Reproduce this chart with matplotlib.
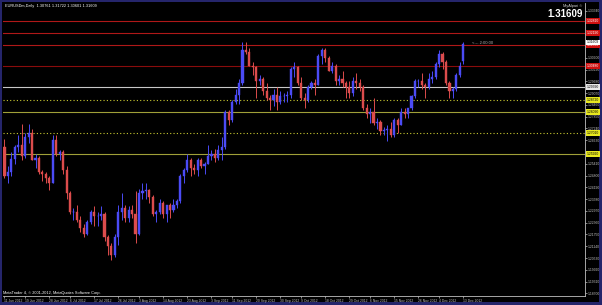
import numpy as np
import pandas as pd
import matplotlib
matplotlib.use("Agg")
import matplotlib.pyplot as plt
import matplotlib.transforms as mtransforms

plt.rcParams["font.family"] = ["Liberation Sans", "DejaVu Sans"]

# ---------------- data (EURUSDm, Daily) ----------------
dates = pd.bdate_range("2012-06-11", "2012-12-13")

opens = [1.2630, 1.2480, 1.2500, 1.2565, 1.2630, 1.2640, 1.2580, 1.2680, 1.2700, 1.2560,
         1.2570, 1.2500, 1.2490, 1.2470, 1.2440, 1.2665, 1.2590, 1.2600, 1.2510, 1.2390,
         1.2290, 1.2290, 1.2250, 1.2210, 1.2180, 1.2240, 1.2290, 1.2270, 1.2270, 1.2280,
         1.2160, 1.2115, 1.2070, 1.2160, 1.2290, 1.2310, 1.2260, 1.2300, 1.2280, 1.2180,
         1.2390, 1.2400, 1.2405, 1.2370, 1.2280, 1.2290, 1.2340, 1.2280, 1.2330, 1.2300,
         1.2330, 1.2350, 1.2480, 1.2510, 1.2560, 1.2520, 1.2510, 1.2560, 1.2530, 1.2540,
         1.2580, 1.2590, 1.2570, 1.2610, 1.2630, 1.2810, 1.2770, 1.2860, 1.2900, 1.2960,
         1.3130, 1.3120, 1.3050, 1.3040, 1.2970, 1.2980, 1.2920, 1.2880, 1.2870, 1.2900,
         1.2860, 1.2890, 1.2890, 1.2900, 1.3030, 1.3040, 1.2960, 1.2880, 1.2870, 1.2940,
         1.2960, 1.2950, 1.3100, 1.3130, 1.3090, 1.3020, 1.3050, 1.2970, 1.2980, 1.2960,
         1.2940, 1.2910, 1.2970, 1.2960, 1.2940, 1.2830, 1.2800, 1.2810, 1.2750, 1.2760,
         1.2710, 1.2715, 1.2720, 1.2690, 1.2770, 1.2740, 1.2810, 1.2800, 1.2830, 1.2890,
         1.2970, 1.2970, 1.2950, 1.2940, 1.2980, 1.2990, 1.3060, 1.3110, 1.3070, 1.2960,
         1.2920, 1.2930, 1.3000, 1.30761]
highs = [1.2671, 1.2530, 1.2600, 1.2640, 1.2690, 1.2747, 1.2700, 1.2745, 1.2720, 1.2590,
         1.2580, 1.2510, 1.2500, 1.2480, 1.2690, 1.2690, 1.2610, 1.2610, 1.2530, 1.2400,
         1.2310, 1.2330, 1.2270, 1.2230, 1.2250, 1.2300, 1.2320, 1.2290, 1.2320, 1.2290,
         1.2170, 1.2130, 1.2180, 1.2330, 1.2390, 1.2330, 1.2320, 1.2330, 1.2400, 1.2410,
         1.2440, 1.2440, 1.2410, 1.2380, 1.2300, 1.2360, 1.2350, 1.2330, 1.2340, 1.2360,
         1.2360, 1.2490, 1.2520, 1.2590, 1.2570, 1.2540, 1.2570, 1.2570, 1.2550, 1.2640,
         1.2610, 1.2620, 1.2640, 1.2680, 1.2820, 1.2820, 1.2870, 1.2930, 1.2980, 1.3170,
         1.31722, 1.3140, 1.3070, 1.3050, 1.3000, 1.2990, 1.2960, 1.2900, 1.2930, 1.2940,
         1.2920, 1.2910, 1.2920, 1.3040, 1.3070, 1.3050, 1.2990, 1.2910, 1.2950, 1.2970,
         1.2980, 1.3110, 1.3140, 1.3140, 1.3100, 1.3070, 1.3060, 1.3000, 1.3020, 1.2970,
         1.2970, 1.2990, 1.3010, 1.2980, 1.2950, 1.2850, 1.2830, 1.2880, 1.2780, 1.2770,
         1.2730, 1.2740, 1.2760, 1.2780, 1.2780, 1.2830, 1.2830, 1.2830, 1.2900, 1.2980,
         1.2980, 1.3010, 1.2960, 1.3010, 1.3020, 1.3070, 1.3130, 1.3120, 1.3080, 1.2970,
         1.2940, 1.3010, 1.3070, 1.31722]
lows = [1.2470, 1.2440, 1.2480, 1.2540, 1.2600, 1.2560, 1.2570, 1.2650, 1.2560, 1.2520,
        1.2490, 1.2450, 1.2440, 1.2405, 1.2440, 1.2580, 1.2560, 1.2490, 1.2360, 1.2280,
        1.2250, 1.2240, 1.2190, 1.2160, 1.2170, 1.2230, 1.2220, 1.2220, 1.2250, 1.2140,
        1.2070, 1.2042, 1.2060, 1.2120, 1.2250, 1.2240, 1.2240, 1.2260, 1.2130, 1.2170,
        1.2360, 1.2360, 1.2340, 1.2270, 1.2240, 1.2280, 1.2260, 1.2240, 1.2260, 1.2290,
        1.2310, 1.2340, 1.2440, 1.2500, 1.2480, 1.2490, 1.2480, 1.2520, 1.2490, 1.2540,
        1.2560, 1.2550, 1.2560, 1.2560, 1.2620, 1.2740, 1.2760, 1.2850, 1.2850, 1.2950,
        1.3110, 1.3050, 1.3000, 1.2880, 1.2950, 1.2900, 1.2870, 1.2820, 1.2840, 1.2820,
        1.2850, 1.2860, 1.2860, 1.2880, 1.2990, 1.2950, 1.2870, 1.2830, 1.2860, 1.2930,
        1.2900, 1.2950, 1.3060, 1.3070, 1.3020, 1.3010, 1.2950, 1.2950, 1.2940, 1.2880,
        1.2880, 1.2890, 1.2930, 1.2920, 1.2820, 1.2780, 1.2750, 1.2740, 1.2720, 1.2690,
        1.2690, 1.2660, 1.2680, 1.2680, 1.2700, 1.2740, 1.2780, 1.2780, 1.2820, 1.2880,
        1.2940, 1.2930, 1.2880, 1.2930, 1.2960, 1.2980, 1.3040, 1.3030, 1.2950, 1.2880,
        1.2880, 1.2920, 1.2990, 1.30601]
closes = [1.2480, 1.2500, 1.2565, 1.2630, 1.2640, 1.2580, 1.2680, 1.2700, 1.2560, 1.2570,
          1.2500, 1.2490, 1.2470, 1.2440, 1.2665, 1.2590, 1.2600, 1.2510, 1.2390, 1.2290,
          1.2290, 1.2250, 1.2210, 1.2180, 1.2240, 1.2290, 1.2270, 1.2270, 1.2280, 1.2160,
          1.2115, 1.2070, 1.2160, 1.2290, 1.2310, 1.2260, 1.2300, 1.2280, 1.2180, 1.2390,
          1.2400, 1.2405, 1.2370, 1.2280, 1.2290, 1.2340, 1.2280, 1.2330, 1.2300, 1.2330,
          1.2350, 1.2480, 1.2510, 1.2560, 1.2520, 1.2510, 1.2560, 1.2530, 1.2540, 1.2580,
          1.2590, 1.2570, 1.2610, 1.2630, 1.2810, 1.2770, 1.2860, 1.2900, 1.2960, 1.3130,
          1.3120, 1.3050, 1.3040, 1.2970, 1.2980, 1.2920, 1.2880, 1.2870, 1.2900, 1.2860,
          1.2890, 1.2890, 1.2900, 1.3030, 1.3040, 1.2960, 1.2880, 1.2870, 1.2940, 1.2960,
          1.2950, 1.3100, 1.3130, 1.3090, 1.3020, 1.3050, 1.2970, 1.2980, 1.2960, 1.2940,
          1.2910, 1.2970, 1.2960, 1.2940, 1.2830, 1.2800, 1.2810, 1.2750, 1.2760, 1.2710,
          1.2715, 1.2720, 1.2690, 1.2770, 1.2740, 1.2810, 1.2800, 1.2830, 1.2890, 1.2970,
          1.2970, 1.2950, 1.2940, 1.2980, 1.2990, 1.3060, 1.3110, 1.3070, 1.2960, 1.2920,
          1.2930, 1.3000, 1.3050, 1.31609]

# horizontal levels drawn on chart
level_prices = [1.32810, 1.32190, 1.31560, 1.30480, 1.29390, 1.28720, 1.28090, 1.27010, 1.25920]
level_kinds = ["red", "red", "red", "darkred", "white", "ydot", "olive", "ydot", "olive"]

# price-scale tick labels
price_ticks = [1.33340, 1.32730, 1.32120, 1.31510, 1.30900, 1.30290, 1.29680, 1.29070,
               1.28460, 1.27850, 1.27240, 1.26630, 1.26020, 1.25410, 1.24800, 1.24190,
               1.23580, 1.22970, 1.22360, 1.21750, 1.21140, 1.20530, 1.19920, 1.19310,
               1.18700]

# time-scale labels
date_labels = ["11 Jun 2012", "19 Jun 2012", "28 Jun 2012", "6 Jul 2012", "17 Jul 2012",
               "26 Jul 2012", "3 Aug 2012", "14 Aug 2012", "23 Aug 2012", "3 Sep 2012",
               "11 Sep 2012", "20 Sep 2012", "30 Sep 2012", "9 Oct 2012", "18 Oct 2012",
               "29 Oct 2012", "6 Nov 2012", "15 Nov 2012", "26 Nov 2012", "4 Dec 2012",
               "13 Dec 2012"]

last_price = 1.31609

# ---------------- drawing ----------------
W, H = 602, 305
fig = plt.figure(figsize=(W / 100, H / 100), dpi=100)
fig.patch.set_facecolor("#25256b")
fig.add_artist(plt.Rectangle((2 / W, 3 / H), 597 / W, 300 / H, transform=fig.transFigure,
                             facecolor="black", edgecolor="none", zorder=0))

ax = fig.add_axes([3 / W, 9 / H, 582 / W, 293 / H])
ax.set_facecolor("black")

o = np.array(opens); h = np.array(highs); l = np.array(lows); c = np.array(closes)
n = len(c)
x = np.arange(n)
bull = c >= o
bull_col = "#4b4bf5"
bear_col = "#dc4c4c"
cols = np.where(bull, bull_col, bear_col)

ax.vlines(x, l, h, colors=cols, linewidth=0.7, zorder=3)
body_bottom = np.minimum(o, c)
body_h = np.maximum(np.abs(c - o), 0.00012)
ax.bar(x, body_h, bottom=body_bottom, width=0.62, color=cols, edgecolor=cols,
       linewidth=0.3, zorder=4)

styles = {
    "red": dict(color="#b01818", ls="-", lw=0.8, tag="#d01010", tc="white"),
    "darkred": dict(color="#8a0c0c", ls="-", lw=0.8, tag="#d01010", tc="white"),
    "white": dict(color="#c8c8c8", ls="-", lw=0.8, tag="#e8e8e8", tc="black"),
    "ydot": dict(color="#c8c830", ls=(0, (1, 2)), lw=0.8, tag="#e8e820", tc="black"),
    "olive": dict(color="#a0a038", ls="-", lw=0.8, tag="#e8e820", tc="black"),
}
ytrans = mtransforms.blended_transform_factory(ax.transAxes, ax.transData)
FS = 2.4
for p, k in zip(level_prices, level_kinds):
    s = styles[k]
    ax.axhline(p, color=s["color"], ls=s["ls"], lw=s["lw"], zorder=2)
    ax.text(1.0035, p, f"{p:.5f}", transform=ytrans, fontsize=FS, color=s["tc"],
            va="center", ha="left", clip_on=False, zorder=6,
            bbox=dict(boxstyle="square,pad=0.2", fc=s["tag"], ec="none"))

ax.text(1.0035, last_price + 0.0010, f"{last_price:.5f}", transform=ytrans, fontsize=FS,
        color="black", va="center", ha="left", clip_on=False, zorder=7,
        bbox=dict(boxstyle="square,pad=0.2", fc="white", ec="none"))

ax.set_xlim(-0.43, 168.3)
ax.set_ylim(1.185628, 1.337402)

ax.yaxis.tick_right()
ax.set_yticks(price_ticks)
ax.set_yticklabels([f"{v:.5f}" for v in price_ticks])
ax.tick_params(axis="y", colors="#c0c0c0", labelsize=FS, length=1.2, width=0.5, pad=0.8)

tick_idx = [int(np.searchsorted(dates, pd.Timestamp(d))) for d in date_labels]
ax.set_xticks(tick_idx)
ax.set_xticklabels(date_labels)
ax.tick_params(axis="x", colors="#c0c0c0", labelsize=FS, length=1.2, width=0.5, pad=0.8)
for t in ax.get_xticklabels():
    t.set_ha("left")

for side in ["top", "left"]:
    ax.spines[side].set_visible(False)
for side in ["bottom", "right"]:
    ax.spines[side].set_color("#c0c0c0")
    ax.spines[side].set_linewidth(0.6)

fig.text(5 / W, 1 - 6 / H,
         f"EURUSDm,Daily  {opens[-1]:.5f} {highs[-1]:.5f} {lows[-1]:.5f} {closes[-1]:.5f}",
         fontsize=2.8, color="white", va="center", ha="left")
fig.text(582 / W, 1 - 6 / H, "MyAlpari \u00a9", fontsize=2.8, color="#d0d0d0",
         va="center", ha="right")
fig.text(583 / W, 1 - 14 / H, f"{last_price:.5f}", fontsize=7, color="white",
         fontweight="bold", va="center", ha="right")
ax.text(n + 1.5, closes[-1] + 0.0006, "<--- 2:00:00", fontsize=3.0, color="#b0b0b0",
        va="center", ha="left", zorder=6)
fig.text(3 / W, 1 - 293 / H, "MetaTrader 4, \u00a9 2001-2012, MetaQuotes Software Corp.",
         fontsize=2.8, color="white", va="center", ha="left")

fig.savefig("out.png", dpi=100, facecolor=fig.get_facecolor())
